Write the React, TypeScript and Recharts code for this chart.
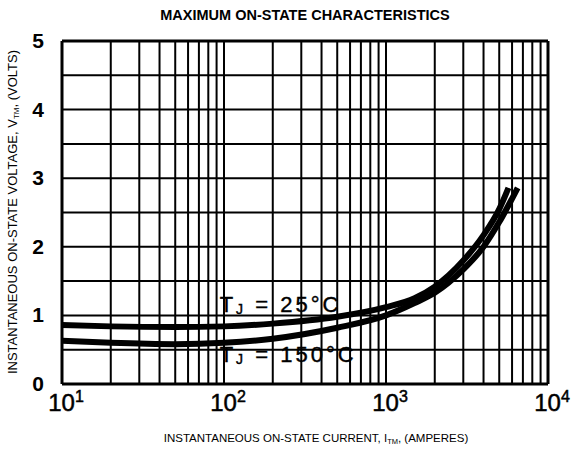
import { LineChart, Line, XAxis, YAxis, CartesianGrid, ReferenceDot, ReferenceLine } from 'recharts';

// current (A) / voltage (V)
const current25 = [10, 20, 50, 100, 200, 500, 1000, 1500, 2000, 3000, 4000, 5000, 5700];
const volts25 = [0.86, 0.84, 0.83, 0.84, 0.88, 0.98, 1.12, 1.25, 1.42, 1.8, 2.17, 2.55, 2.86];
const current150 = [10, 20, 50, 100, 200, 500, 1000, 1500, 2000, 3000, 4000, 5000, 6500];
const volts150 = [0.63, 0.6, 0.58, 0.6, 0.66, 0.82, 1.0, 1.18, 1.33, 1.67, 2.0, 2.36, 2.86];

const xTicks = [
   10, 20, 30, 40, 50, 60, 70, 80, 90,
   100, 200, 300, 400, 500, 600, 700, 800, 900,
   1000, 2000, 3000, 4000, 5000, 6000, 7000, 8000, 9000, 10000,
];
const xLabelTicks = [10, 100, 1000, 10000];
const yTicks = [0, 0.5, 1, 1.5, 2, 2.5, 3, 3.5, 4, 4.5, 5];
const yLabelTicks = [0, 1, 2, 3, 4, 5];

const data25 = current25.map((i, k) => ({ i, v: volts25[k] }));
const data150 = current150.map((i, k) => ({ i, v: volts150[k] }));

const FONT = '"Liberation Sans", Arial, sans-serif';

function XTick(props: any) {
   const { x, y, payload } = props;
   if (!xLabelTicks.includes(payload.value)) return null;
   const exp = Math.round(Math.log10(payload.value));
   return (
      <text x={x + 4} y={y + 19} textAnchor="middle" fontFamily={FONT} fontSize={24} fill="#000" stroke="#000" strokeWidth={0.5}>
         10<tspan dy={-9} fontSize={16}>{exp}</tspan>
      </text>
   );
}

function YTick(props: any) {
   const { x, y, payload } = props;
   if (!yLabelTicks.includes(payload.value)) return null;
   return (
      <text x={x - 10} y={y + 7} textAnchor="end" fontFamily={FONT} fontSize={21} fontWeight="bold" fill="#000">
         {payload.value}
      </text>
   );
}

function TempLabel({ cx, cy, temp }: any) {
   return (
      <text x={cx} y={cy} fontFamily={FONT} fontSize={22} letterSpacing={3} fill="#000" stroke="#000" strokeWidth={0.4}>
         T<tspan fontSize={14} dy={2}>J</tspan>
         <tspan dy={-2}> = {temp}°C</tspan>
      </text>
   );
}

export default function App() {
   return (
      <div style={{ position: 'absolute', left: 0, top: 0, width: 576, height: 449, background: '#fff' }}>
         <div
            style={{
               position: 'absolute', left: 0, top: 7, width: 610, textAlign: 'center',
               fontFamily: FONT, fontWeight: 'bold', fontSize: 14.5, color: '#000',
            }}
         >
            MAXIMUM ON-STATE CHARACTERISTICS
         </div>
         <LineChart width={576} height={449} margin={{ top: 41, right: 28, bottom: 0, left: 0 }}>
            <CartesianGrid stroke="#000" strokeWidth={2} fill="#fff" />
            <XAxis
               type="number"
               dataKey="i"
               scale="log"
               domain={[10, 10000]}
               ticks={xTicks}
               interval={0}
               allowDataOverflow
               height={65}
               tickLine={false}
               axisLine={{ stroke: '#000', strokeWidth: 3 }}
               tick={<XTick />}
            />
            <YAxis
               type="number"
               domain={[0, 5]}
               ticks={yTicks}
               interval={0}
               width={62}
               tickLine={false}
               axisLine={{ stroke: '#000', strokeWidth: 3 }}
               tick={<YTick />}
            />
            <ReferenceLine y={5} stroke="#000" strokeWidth={3} />
            <ReferenceLine x={10000} stroke="#000" strokeWidth={3} />
            <Line data={data25} dataKey="v" type="monotone" stroke="#000" strokeWidth={6} dot={false} isAnimationActive={false} />
            <Line data={data150} dataKey="v" type="monotone" stroke="#000" strokeWidth={6} dot={false} isAnimationActive={false} />
            <ReferenceDot x={94} y={1.05} r={0} shape={(p: any) => <TempLabel {...p} temp={25} />} />
            <ReferenceDot x={94} y={0.32} r={0} shape={(p: any) => <TempLabel {...p} temp={150} />} />
            <text x={316} y={442} textAnchor="middle" fontFamily={FONT} fontSize={11.5} fill="#000">
               INSTANTANEOUS ON-STATE CURRENT, I<tspan fontSize={7.5} dy={2}>TM</tspan>
               <tspan dy={-2}>, (AMPERES)</tspan>
            </text>
            <text
               x={0}
               y={0}
               transform="translate(17, 212) rotate(-90)"
               textAnchor="middle"
               fontFamily={FONT}
               fontSize={13}
               fill="#000"
            >
               INSTANTANEOUS ON-STATE VOLTAGE, V<tspan fontSize={8} dy={2}>TM</tspan>
               <tspan dy={-2}>, (VOLTS)</tspan>
            </text>
         </LineChart>
      </div>
   );
}
